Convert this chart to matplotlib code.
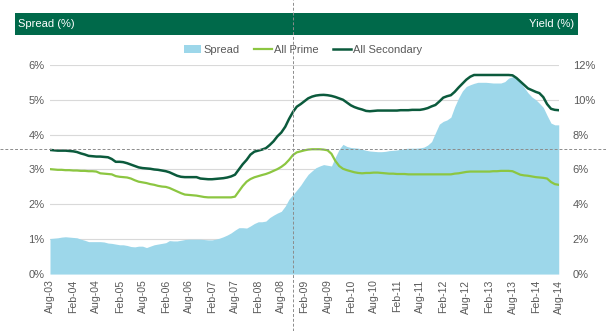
import matplotlib
matplotlib.use("Agg")
import matplotlib.pyplot as plt
import pandas as pd
from matplotlib.patches import Rectangle, Patch
from matplotlib.lines import Line2D

plt.rcParams["font.family"] = ["Liberation Sans", "DejaVu Sans"]

# monthly data, Aug-03 .. Aug-14
months = pd.date_range("2003-08-01", "2014-08-01", freq="MS")

spread = [
    1.02, 1.03, 1.04, 1.06, 1.07, 1.06, 1.05, 1.04, 1.00, 0.97,
    0.93, 0.93, 0.93, 0.93, 0.92, 0.89, 0.88, 0.86, 0.84, 0.84,
    0.82, 0.79, 0.78, 0.80, 0.80, 0.76, 0.80, 0.84, 0.86, 0.88,
    0.90, 0.96, 0.95, 0.95, 0.97, 0.99, 1.00, 1.00, 1.00, 1.00,
    0.99, 0.98, 0.98, 1.00, 1.03, 1.07, 1.12, 1.18, 1.26, 1.33,
    1.33, 1.32, 1.38, 1.45, 1.50, 1.50, 1.52, 1.62, 1.69, 1.75,
    1.80, 1.95, 2.15, 2.28, 2.41, 2.55, 2.72, 2.86, 2.96, 3.05,
    3.10, 3.14, 3.12, 3.10, 3.35, 3.58, 3.72, 3.66, 3.63, 3.62,
    3.61, 3.58, 3.55, 3.53, 3.52, 3.51, 3.51, 3.52, 3.54, 3.55,
    3.56, 3.58, 3.60, 3.61, 3.61, 3.61, 3.62, 3.64, 3.70, 3.80,
    4.05, 4.30, 4.38, 4.42, 4.50, 4.80, 5.05, 5.25, 5.38, 5.43,
    5.47, 5.50, 5.50, 5.50, 5.49, 5.48, 5.48, 5.48, 5.52, 5.62,
    5.66, 5.62, 5.50, 5.35, 5.20, 5.08, 5.00, 4.90, 4.78, 4.55,
    4.33, 4.28, 4.28,
]

all_prime = [
    6.02, 6.00, 5.98, 5.98, 5.96, 5.96, 5.94, 5.94, 5.92, 5.92,
    5.90, 5.90, 5.88, 5.78, 5.76, 5.74, 5.72, 5.62, 5.58, 5.56,
    5.54, 5.48, 5.38, 5.30, 5.26, 5.22, 5.16, 5.12, 5.06, 5.02,
    5.00, 4.94, 4.84, 4.74, 4.64, 4.56, 4.54, 4.52, 4.50, 4.46,
    4.42, 4.40, 4.40, 4.40, 4.40, 4.40, 4.40, 4.40, 4.44, 4.75,
    5.05, 5.30, 5.45, 5.55, 5.62, 5.68, 5.74, 5.82, 5.92, 6.02,
    6.15, 6.32, 6.55, 6.83, 6.98, 7.04, 7.10, 7.14, 7.16, 7.16,
    7.16, 7.14, 7.10, 6.90, 6.50, 6.20, 6.04, 5.96, 5.90, 5.84,
    5.80, 5.78, 5.80, 5.80, 5.82, 5.82, 5.80, 5.78, 5.76, 5.76,
    5.74, 5.74, 5.74, 5.72, 5.72, 5.72, 5.72, 5.72, 5.72, 5.72,
    5.72, 5.72, 5.72, 5.72, 5.72, 5.76, 5.78, 5.82, 5.86, 5.88,
    5.88, 5.88, 5.88, 5.88, 5.88, 5.90, 5.90, 5.92, 5.92, 5.92,
    5.90, 5.80, 5.70, 5.66, 5.64, 5.60, 5.56, 5.54, 5.52, 5.48,
    5.28, 5.16, 5.12,
]

all_secondary = [
    7.12, 7.10, 7.08, 7.08, 7.08, 7.06, 7.04, 7.00, 6.92, 6.86,
    6.78, 6.76, 6.74, 6.74, 6.72, 6.70, 6.60, 6.44, 6.44, 6.42,
    6.36, 6.28, 6.20, 6.12, 6.08, 6.06, 6.04, 6.00, 5.98, 5.94,
    5.90, 5.84, 5.74, 5.64, 5.58, 5.56, 5.56, 5.56, 5.56, 5.48,
    5.46, 5.44, 5.44, 5.46, 5.48, 5.50, 5.54, 5.60, 5.70, 6.00,
    6.30, 6.55, 6.85, 7.02, 7.08, 7.14, 7.22, 7.40, 7.62, 7.90,
    8.12, 8.45, 8.90, 9.30, 9.60, 9.75, 9.92, 10.08, 10.18, 10.24,
    10.27, 10.28, 10.26, 10.22, 10.16, 10.08, 10.00, 9.84, 9.68, 9.58,
    9.50, 9.44, 9.36, 9.34, 9.36, 9.38, 9.38, 9.38, 9.38, 9.38,
    9.38, 9.40, 9.40, 9.40, 9.42, 9.42, 9.42, 9.46, 9.52, 9.62,
    9.70, 9.90, 10.12, 10.20, 10.26, 10.45, 10.70, 10.92, 11.15, 11.32,
    11.42, 11.42, 11.42, 11.42, 11.42, 11.42, 11.42, 11.42, 11.42, 11.42,
    11.40, 11.25, 11.05, 10.85, 10.65, 10.55, 10.45, 10.38, 10.15, 9.75,
    9.48, 9.42, 9.40,
]

left_ticks = [0, 1, 2, 3, 4, 5, 6]
right_ticks = [0, 2, 4, 6, 8, 10, 12]
tick_dates = pd.date_range("2003-08-01", "2014-08-01", freq="6MS")
tick_labels = [d.strftime("%b-%y") for d in tick_dates]

GREEN = "#00694a"
BLUE = "#9dd7ea"
PRIME = "#8cc641"
SECONDARY = "#0b5a3c"
TXT = "#595959"

fig = plt.figure(figsize=(6.06, 3.31), dpi=100)
ax = fig.add_axes([0.0825, 0.172, 0.8395, 0.632])
ax2 = ax.twinx()

ax.fill_between(months, spread, 0, color=BLUE, linewidth=0, zorder=2)
ax2.plot(months, all_prime, color=PRIME, linewidth=1.6, zorder=3)
ax2.plot(months, all_secondary, color=SECONDARY, linewidth=1.8, zorder=3)

ax.set_ylim(0, 6)
ax2.set_ylim(0, 12)
ax.set_xlim(months[0], months[-1])
ax.set_yticks(left_ticks)
ax.set_yticklabels([f"{v}%" for v in left_ticks], fontsize=8, color=TXT)
ax2.set_yticks(right_ticks)
ax2.set_yticklabels([f"{v}%" for v in right_ticks], fontsize=8, color=TXT)
ax.set_xticks(tick_dates)
ax.set_xticklabels(tick_labels, rotation=90, fontsize=7.6, color=TXT)
ax.tick_params(length=0, pad=4)
ax2.tick_params(length=0, pad=10)
ax.grid(axis="y", color="#d9d9d9", linewidth=0.8, zorder=0)
ax.set_axisbelow(True)
for a in (ax, ax2):
    for s in a.spines.values():
        s.set_visible(False)
ax2.set_zorder(ax.get_zorder() + 1)
ax2.patch.set_visible(False)

# header bar
fig.add_artist(Rectangle((0.025, 0.894), 0.929, 0.067, transform=fig.transFigure,
                         facecolor=GREEN, edgecolor="none"))
fig.text(0.03, 0.927, "Spread (%)", color="white", fontsize=8, va="center")
fig.text(0.947, 0.927, "Yield (%)", color="white", fontsize=8, va="center", ha="right")

# legend
handles = [Patch(facecolor=BLUE, edgecolor="none"),
           Line2D([], [], color=PRIME, linewidth=1.6),
           Line2D([], [], color=SECONDARY, linewidth=1.8)]
fig.legend(handles, ["Spread", "All Prime", "All Secondary"], loc="center",
           bbox_to_anchor=(0.5, 0.85), ncol=3, frameon=False, fontsize=8,
           handlelength=1.6, handletextpad=0.2, columnspacing=1.3,
           labelcolor=TXT)

# dashed cross-hair lines
fig.add_artist(Line2D([0.483, 0.483], [0.0, 1.0], transform=fig.transFigure,
                      color="#8c8c8c", linewidth=0.7, linestyle=(0, (3, 2))))
fig.add_artist(Line2D([0.0, 1.0], [0.55, 0.55], transform=fig.transFigure,
                      color="#8c8c8c", linewidth=0.7, linestyle=(0, (3, 2))))

fig.savefig("out.png", dpi=100, facecolor="white")
